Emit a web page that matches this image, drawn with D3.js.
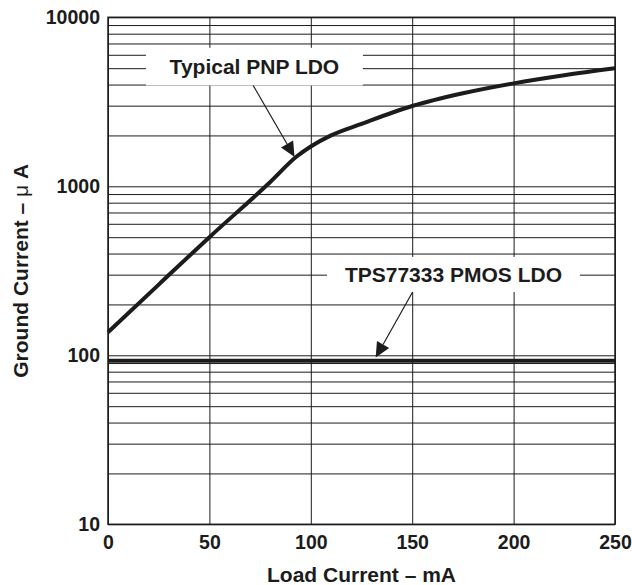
<!DOCTYPE html>
<html>
<head>
<meta charset="utf-8">
<script src="https://cdn.jsdelivr.net/npm/d3@7"></script>
<style>
  html, body { margin: 0; padding: 0; background: #fff; }
  svg { display: block; font-family: "Liberation Sans", Arial, Helvetica, sans-serif; }
</style>
</head>
<body>
<div id="chart"></div>
<script>
// load current (mA) vs ground current (uA)
const loadCurrent = [0, 25, 50, 80, 93, 100, 110, 125, 150, 175, 200, 225, 250];
const pnpGround   = [137, 262, 500, 1060, 1500, 1720, 2000, 2340, 2985, 3550, 4065, 4540, 4990];
const pmosGround  = [93, 93];
const pmosLoad    = [0, 250];

const xTicks = [0, 50, 100, 150, 200, 250];
const yDecades = [10, 100, 1000, 10000];

// annotation labels: box extents and arrow ends in data units
const annotations = [
  { text: 'Typical PNP LDO', box: [18.7, 125.7, 6600, 3950], from: [71.6, 3950], to: [92, 1490] },
  { text: 'TPS77333 PMOS LDO', box: [108, 232.7, 382, 237], from: [150.2, 237], to: [132, 97] }
];

const W = 632, H = 585;
const margin = { top: 17.3, right: 17, bottom: 60.7, left: 108 };
const iw = W - margin.left - margin.right;
const ih = H - margin.top - margin.bottom;
const ink = '#1c1c1c';

const svg = d3.select('#chart').append('svg')
  .attr('width', W)
  .attr('height', H);

const g = svg.append('g')
  .attr('transform', `translate(${margin.left},${margin.top})`);

const x = d3.scaleLinear().domain([0, 250]).range([0, iw]);
const y = d3.scaleLog().domain([10, 10000]).range([ih, 0]);

// every 1..9 line inside each decade
const yGrid = [];
yDecades.slice(0, -1).forEach(d => {
  for (let k = 1; k < 10; k++) yGrid.push(d * k);
});
yGrid.push(10000);

// y grid + labels
const yAxis = g.append('g')
  .call(d3.axisLeft(y)
    .tickValues(yGrid)
    .tickSize(-iw)
    .tickPadding(8)
    .tickFormat(v => yDecades.includes(v) ? String(v) : ''));

// x grid + labels
const xAxis = g.append('g')
  .attr('transform', `translate(0,${ih})`)
  .call(d3.axisBottom(x)
    .tickValues(xTicks)
    .tickSize(-ih)
    .tickPadding(11));

[xAxis, yAxis].forEach(a => {
  a.select('.domain').remove();
  a.selectAll('line').attr('stroke', ink).attr('stroke-width', 1);
  a.selectAll('text')
    .attr('fill', ink)
    .style('font-size', '19.5px')
    .style('font-weight', 'bold');
});

// white label boxes knock out the grid
annotations.forEach(a => {
  const [x0, x1, yt, yb] = a.box;
  g.append('rect')
    .attr('x', x(x0))
    .attr('y', y(yt))
    .attr('width', x(x1) - x(x0))
    .attr('height', y(yb) - y(yt))
    .attr('fill', '#fff');
});

// frame
g.append('rect')
  .attr('width', iw)
  .attr('height', ih)
  .attr('fill', 'none')
  .attr('stroke', ink)
  .attr('stroke-width', 1.5);

const line = d3.line()
  .x(d => x(d[0]))
  .y(d => y(d[1]))
  .curve(d3.curveMonotoneX);

g.append('path')
  .datum(d3.zip(loadCurrent, pnpGround))
  .attr('d', line)
  .attr('fill', 'none')
  .attr('stroke', ink)
  .attr('stroke-width', 4);

g.append('path')
  .datum(d3.zip(pmosLoad, pmosGround))
  .attr('d', line)
  .attr('fill', 'none')
  .attr('stroke', ink)
  .attr('stroke-width', 4);

// annotation text + arrows
annotations.forEach(a => {
  const [x0, x1, yt, yb] = a.box;
  g.append('text')
    .attr('x', (x(x0) + x(x1)) / 2)
    .attr('y', (y(yt) + y(yb)) / 2)
    .attr('dy', '0.36em')
    .attr('text-anchor', 'middle')
    .attr('fill', ink)
    .style('font-size', '21px')
    .style('font-weight', 'bold')
    .text(a.text);

  const sx = x(a.from[0]), sy = y(a.from[1]);
  const tx = x(a.to[0]), ty = y(a.to[1]);
  const ang = Math.atan2(ty - sy, tx - sx);
  const len = 15, half = 7;
  const bx = tx - len * Math.cos(ang), by = ty - len * Math.sin(ang);

  g.append('line')
    .attr('x1', sx).attr('y1', sy)
    .attr('x2', bx).attr('y2', by)
    .attr('stroke', ink)
    .attr('stroke-width', 1.2);

  const px = -Math.sin(ang) * half, py = Math.cos(ang) * half;
  g.append('path')
    .attr('d', `M${tx},${ty}L${bx + px},${by + py}L${bx - px},${by - py}Z`)
    .attr('fill', ink);
});

// axis titles
svg.append('text')
  .attr('x', margin.left + iw / 2)
  .attr('y', 582)
  .attr('text-anchor', 'middle')
  .attr('fill', ink)
  .style('font-size', '21px')
  .style('font-weight', 'bold')
  .text('Load Current – mA');

const yt = svg.append('text')
  .attr('transform', `translate(28,${margin.top + ih / 2}) rotate(-90)`)
  .attr('text-anchor', 'middle')
  .attr('fill', ink)
  .style('font-size', '21px')
  .style('font-weight', 'bold');
yt.append('tspan').text('Ground Current – ');
yt.append('tspan').style('font-weight', 'normal').text('μ');
yt.append('tspan').text(' A');
</script>
</body>
</html>
